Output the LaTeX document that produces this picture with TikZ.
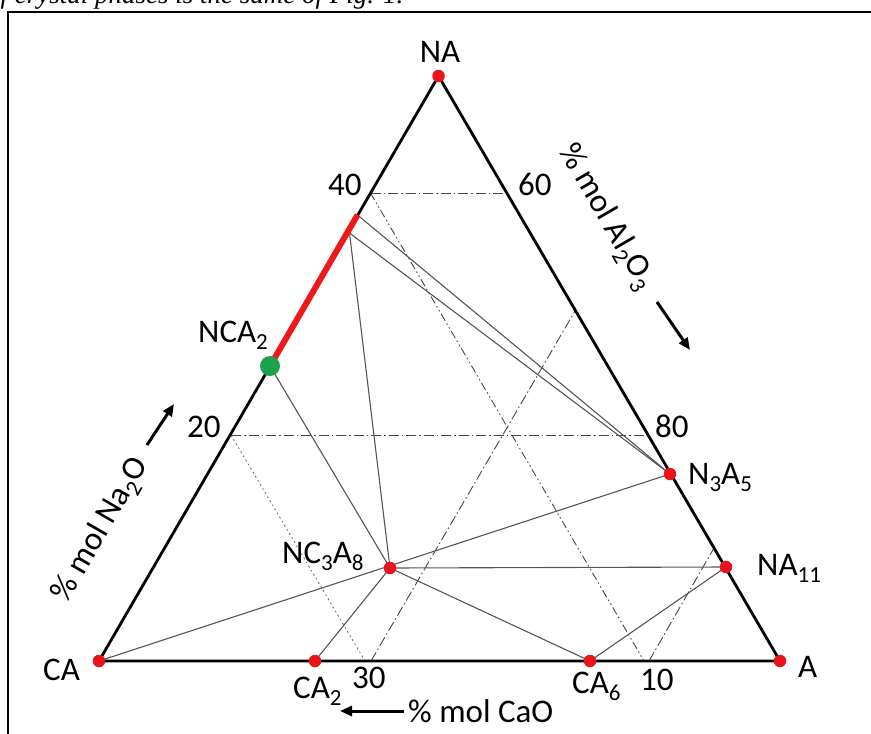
\documentclass[tikz,border=0pt]{standalone}
\usepackage{fontspec}
\setmainfont{Carlito}
\newfontfamily\capfont{Liberation Serif}
\usetikzlibrary{arrows.meta,calc}
\definecolor{dotred}{RGB}{232,20,25}
\definecolor{segred}{RGB}{238,24,24}
\definecolor{dotgreen}{RGB}{28,162,76}
\definecolor{tieline}{RGB}{85,85,85}
\definecolor{gridline}{RGB}{70,70,70}
\newcommand\sbs[1]{\raisebox{-7pt}{\fontsize{23}{23}\selectfont #1}}
\begin{document}
\begin{tikzpicture}[x=1pt,y=-1pt,
  lbl/.style={font=\fontsize{33}{38}\selectfont, inner sep=0pt, anchor=base west},
  axlbl/.style={font=\fontsize{33}{38}\selectfont, inner sep=0pt, anchor=center},
  sideline/.style={line width=2.8pt, black, line cap=round},
  tie/.style={line width=1.1pt, tieline},
  gridA/.style={line width=0.9pt, gridline, dash pattern=on 10pt off 3pt on 1.5pt off 3pt},
  gridB/.style={line width=0.9pt, gridline, dash pattern=on 8pt off 3pt on 1.5pt off 3pt on 1.5pt off 3pt},
  gridC/.style={line width=0.9pt, gridline!80, dash pattern=on 2pt off 3pt on 1.5pt off 3pt},
  rdot/.style={circle, fill=dotred, inner sep=0pt, minimum size=12.5pt},
  gdot/.style={circle, fill=dotgreen, inner sep=0pt, minimum size=20pt},
  axarrow/.style={line width=3pt, -{Triangle[length=12pt,width=10pt]}},
]
\useasboundingbox (0,0) rectangle (871,734);
\clip (0,0) rectangle (871,734);

% caption fragment and frame
\node[font=\capfont\itshape\fontsize{27}{30}\selectfont, anchor=base west, inner sep=0pt] (cap) at (-13,3.5) {of crystal phases is the same of Fig. 1.};
\draw[line width=2.2pt] (8,760) -- (8,12) -- (900,12);

% corner and phase points
\coordinate (NA) at (438.5,76);
\coordinate (CA) at (99,661);
\coordinate (A) at (780,661);
\coordinate (NCA2) at (270,366);
\coordinate (N3A5) at (670,474);
\coordinate (NA11) at (726,567);
\coordinate (NC3A8) at (390,568);
\coordinate (CA2) at (315,661);
\coordinate (CA6) at (590,661);
\coordinate (P1) at (357.5,215);
\coordinate (P2) at (349.5,233);

% grid points
\coordinate (L40) at (370.5,193);
\coordinate (R40) at (508.5,193);
\coordinate (L20) at (231,435);
\coordinate (R20) at (648,435);
\coordinate (B30) at (365,661);
\coordinate (B30b) at (371,661);
\coordinate (B10) at (644,661);
\coordinate (B10b) at (649,661);
\coordinate (R70) at (575,311);
\coordinate (R90) at (714,548);

% dash-dot composition lines
\draw[gridA] (L40) -- (R40);
\draw[gridA] (L20) -- (R20);
\draw[gridB] (L40) -- (B10);
\draw[gridC] (L20) -- (B30);
\draw[gridA] (B30b) -- (R70);
\draw[gridA] (B10b) -- (R90);

% tie lines
\draw[tie] (P1) -- (N3A5);
\draw[tie] (P2) -- (N3A5);
\draw[tie] (P2) -- (NC3A8);
\draw[tie] (NCA2) -- (NC3A8);
\draw[tie] (CA) -- (N3A5);
\draw[tie] (NC3A8) -- (NA11);
\draw[tie] (NC3A8) -- (CA2);
\draw[tie] (NC3A8) -- (CA6);
\draw[tie] (CA6) -- (NA11);

% triangle
\draw[sideline, line join=round] (CA) -- (NA) -- (A) -- cycle;
\draw[line width=6pt, segred] (NCA2) -- (P1);

% dots
\foreach \p in {NA,CA,A,N3A5,NA11,NC3A8,CA2,CA6}
  \node[rdot] (\p-dot) at (\p) {};
\node[gdot] (NCA2-dot) at (NCA2) {};

% labels
\node[axlbl] (lNA) at (440,52) {NA};
\node[lbl] (l40) at (328,195) {40};
\node[lbl] (l60) at (518,195) {60};
\node[lbl] (lNCA2) at (198,342) {NCA\sbs{2}};
\node[lbl] (l20) at (187,437) {20};
\node[lbl] (l80) at (655,437) {80};
\node[lbl] (lN3A5) at (688,484) {N\sbs{3}A\sbs{5}};
\node[lbl] (lNC3A8) at (282,563) {NC\sbs{3}A\sbs{8}};
\node[lbl] (lNA11) at (757,575) {NA\sbs{11}};
\node[lbl] (lA) at (798,677) {A};
\node[lbl] (lCA) at (43,680) {CA};
\node[lbl] (lCA2) at (293,698) {CA\sbs{2}};
\node[lbl] (l30) at (352,688) {30};
\node[lbl] (lCA6) at (572,693) {CA\sbs{6}};
\node[lbl] (l10) at (640,690) {10};

% axis labels and arrows
\node[axlbl, rotate=59.9] (axNa) at (101,530) {\% mol Na\sbs{2}O};
\node[axlbl, rotate=-59.7] (axAl) at (606,217) {\% mol Al\sbs{2}O\sbs{3}};
\node[lbl] (axCa) at (408,722) {\% mol CaO};

\coordinate (aNa1) at (147,445);
\coordinate (aNa2) at (174,404);
\coordinate (aAl1) at (657,302);
\coordinate (aAl2) at (690,350);
\coordinate (aCa1) at (404,711);
\coordinate (aCa2) at (340,711);
\draw[axarrow] (aNa1) -- (aNa2);
\draw[axarrow] (aAl1) -- (aAl2);
\draw[axarrow] (aCa1) -- (aCa2);
\end{tikzpicture}
\end{document}
